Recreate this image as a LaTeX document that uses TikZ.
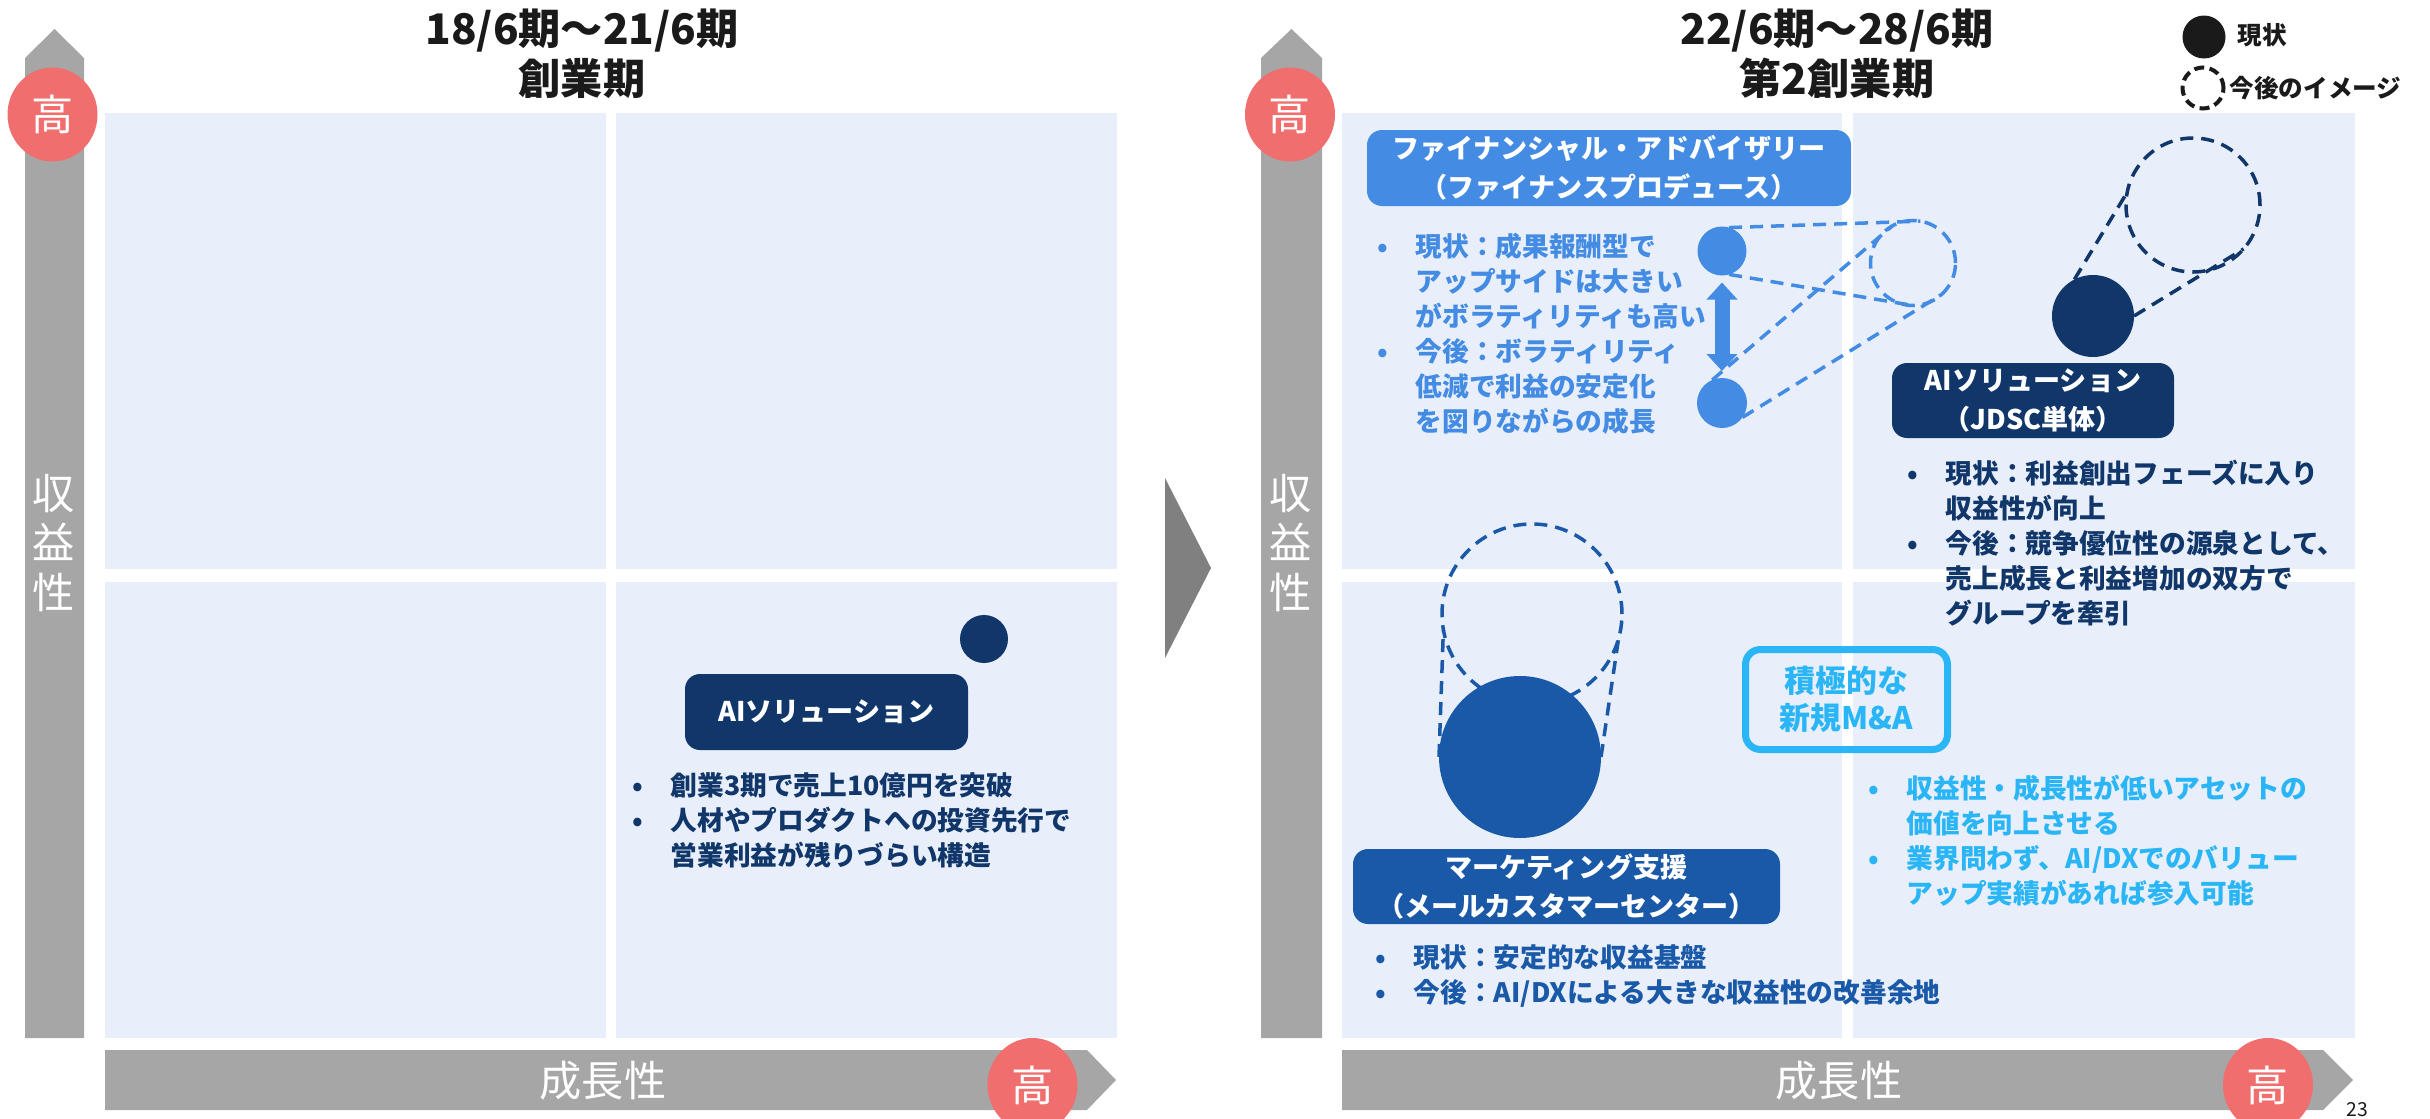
\documentclass[tikz,border=0pt]{standalone}
\usepackage{fontspec}
\setmainfont{Noto Sans CJK JP}
\usepackage{xcolor}
\usepackage{tikz}
\usetikzlibrary{arrows.meta}
\usetikzlibrary{shapes.geometric}

\definecolor{quadbg}{HTML}{E8EFFA}
\definecolor{axisgray}{HTML}{A6A6A6}
\definecolor{chevgray}{HTML}{808080}
\definecolor{hired}{HTML}{F06E6E}
\definecolor{navy}{HTML}{10366A}
\definecolor{fablue}{HTML}{448CE3}
\definecolor{mkblue}{HTML}{1A59A8}
\definecolor{mnacyan}{HTML}{29B5F6}
\definecolor{inkblack}{HTML}{1A1A1A}

\newcommand{\bu}{\makebox[0.8mm][c]{•}\hspace{2.9mm}}
\newcommand{\ind}{\hspace*{3.7mm}}

\tikzset{
  hilabel/.style={ellipse, fill=hired, text=white, inner sep=0, minimum width=9mm, minimum height=9.4mm, font=\fontsize{12}{12}\selectfont},
  axlabel/.style={text=white, inner sep=0, align=center, font=\fontsize{12}{14.2}\selectfont},
  title/.style={text=inkblack, inner sep=0, align=center, font=\fontsize{12}{14.2}\selectfont\bfseries},
  tagbox/.style={rounded corners=1.5mm, inner sep=0, text=white, align=center, font=\fontsize{7.7}{11}\selectfont\bfseries},
  blist/.style={anchor=base west, inner sep=0, font=\fontsize{7.6}{10}\selectfont\bfseries},
  keytext/.style={anchor=west, inner sep=0, text=inkblack, font=\fontsize{7}{8}\selectfont\bfseries},
  nowdot/.style={circle, inner sep=0, outer sep=0},
  goalring/.style={circle, inner sep=0, outer sep=0, draw, line width=0.35mm, dash pattern=on 1.3mm off 0.8mm},
  link/.style={line width=0.35mm, dash pattern=on 1.3mm off 0.8mm},
}

\begin{document}
\begin{tikzpicture}[x=0.1mm, y=-0.1mm]
        \useasboundingbox (0,0) rectangle (2430,1119);

        % quadrants
        \fill[quadbg] (105,113) rectangle (606,569);
        \fill[quadbg] (616,113) rectangle (1117,569);
        \fill[quadbg] (105,582) rectangle (606,1038);
        \fill[quadbg] (616,582) rectangle (1117,1038);
        \fill[quadbg] (1342,113) rectangle (1842,569);
        \fill[quadbg] (1853,113) rectangle (2355,569);
        \fill[quadbg] (1342,582) rectangle (1842,1038);
        \fill[quadbg] (1853,582) rectangle (2355,1038);

        % axes
        \fill[axisgray] (25,1038) -- (25,58) -- (54.5,29) -- (84,58) -- (84,1038) -- cycle;
        \fill[axisgray] (105,1050) -- (1087,1050) -- (1116,1080) -- (1087,1110) -- (105,1110) -- cycle;
        \fill[axisgray] (1261,1038) -- (1261,58) -- (1291.5,29) -- (1322,58) -- (1322,1038) -- cycle;
        \fill[axisgray] (1342,1050) -- (2323,1050) -- (2353,1080) -- (2323,1110) -- (1342,1110) -- cycle;
        \fill[chevgray] (1165,478) -- (1211,568) -- (1165,658) -- cycle;

        \node[axlabel] (yl_left) at (54,543) {収\\益\\性};
        \node[axlabel] (yl_right) at (1291,543) {収\\益\\性};
        \node[axlabel] (xl_left) at (603,1081) {成長性};
        \node[axlabel] (xl_right) at (1839,1081) {成長性};
        \node[hilabel] (yh_left) at (52.5,114.5) {高};
        \node[hilabel] (yh_right) at (1290,114.5) {高};
        \node[hilabel] (xh_left) at (1032.5,1085) {高};
        \node[hilabel] (xh_right) at (2268,1085) {高};

        \node[title] (t_left) at (582,54) {18/6期～21/6期\\創業期};
        \node[title] (t_right) at (1837,54) {22/6期～28/6期\\第2創業期};

        % legend
        \node[nowdot, fill=inkblack, minimum size=4.3mm] (key_now) at (2204,37) {};
        \node[keytext] (key_now_txt) at (2237,35) {現状};
        \node[goalring, draw=inkblack, minimum size=4.1mm, line width=0.4mm, dash pattern=on 1mm off 0.55mm] (key_goal) at (2203,88) {};
        \node[keytext] (key_goal_txt) at (2229,88) {今後のイメージ};

        % left panel
        \node[nowdot, fill=navy, minimum size=4.8mm] (ai_old) at (984,639) {};
        \node[tagbox, fill=navy, minimum width=28.3mm, minimum height=7.6mm] (ai_old_box) at (826.5,712) {AIソリューション};
        \node[blist, text=navy] (ai_old_txt) at (633,795) {\begin{tabular}[t]{@{}l@{}}\bu 創業3期で売上10億円を突破\\\bu 人材やプロダクトへの投資先行で\\\ind 営業利益が残りづらい構造\end{tabular}};

        % right panel: rings and dots
        \node[goalring, draw=fablue, minimum size=8.5mm] (fa_goal) at (1913,263) {};
        \node[goalring, draw=navy, minimum size=13.4mm] (ai_goal) at (2193,205) {};
        \node[goalring, draw=mkblue, minimum size=18mm] (mk_goal) at (1532,614) {};
        \node[nowdot, fill=fablue, minimum size=4.9mm] (fa_now) at (1722,251) {};
        \node[nowdot, fill=fablue, minimum size=5mm] (fa_next) at (1722,403) {};
        \node[nowdot, fill=navy, minimum size=8.2mm] (ai_now) at (2093,316) {};
        \node[nowdot, fill=mkblue, minimum size=16.2mm] (mk_now) at (1520,757) {};

        \draw[link, fablue] (fa_now.73) -- (fa_goal.80);
        \draw[link, fablue] (fa_now.-73) -- (fa_goal.-90);
        \draw[link, fablue] (fa_next.113) -- (fa_goal.119);
        \draw[link, fablue] (fa_next.-35) -- (fa_goal.-48);
        \draw[link, navy] (ai_now.117) -- (ai_goal.169);
        \draw[link, navy] (ai_now.0) -- (ai_goal.-41);
        \draw[link, mkblue] (mk_now.180) -- (mk_goal.190);
        \draw[link, mkblue] (mk_now.0) -- (mk_goal.-16);

        \draw[fablue, line width=1.5mm, {Triangle[width=3mm,length=1.7mm]}-{Triangle[width=3mm,length=1.7mm]}, shorten <=0.7mm, shorten >=0.7mm] (fa_now) -- (fa_next);

        % right panel: boxes and texts
        \node[tagbox, fill=fablue, minimum width=48.4mm, minimum height=7.6mm] (fa_box) at (1609,168) {ファイナンシャル・アドバイザリー\\（ファイナンスプロデュース）};
        \node[blist, text=fablue] (fa_txt) at (1378,256) {\begin{tabular}[t]{@{}l@{}}\bu 現状：成果報酬型で\\\ind アップサイドは大きい\\\ind がボラティリティも高い\\\bu 今後：ボラティリティ\\\ind 低減で利益の安定化\\\ind を図りながらの成長\end{tabular}};

        \node[tagbox, fill=navy, minimum width=28.2mm, minimum height=7.5mm] (ai_box) at (2033,400.5) {AIソリューション\\（JDSC単体）};
        \node[blist, text=navy] (ai_txt) at (1908,483) {\begin{tabular}[t]{@{}l@{}}\bu 現状：利益創出フェーズに入り\\\ind 収益性が向上\\\bu 今後：競争優位性の源泉として、\\\ind 売上成長と利益増加の双方で\\\ind グループを牽引\end{tabular}};

        \node[draw=mnacyan, line width=0.7mm, rounded corners=1.5mm, minimum width=20.2mm, minimum height=10mm, inner sep=0, text=mnacyan, align=center, font=\fontsize{8.8}{10.5}\selectfont\bfseries] (mna_box) at (1846.5,699.5) {積極的な\\新規M\&A};
        \node[blist, text=mnacyan] (mna_txt) at (1869,798) {\begin{tabular}[t]{@{}l@{}}\bu 収益性・成長性が低いアセットの\\\ind 価値を向上させる\\\bu 業界問わず、AI/DXでのバリュー\\\ind アップ実績があれば参入可能\end{tabular}};

        \node[tagbox, fill=mkblue, minimum width=42.7mm, minimum height=7.5mm] (mk_box) at (1566.5,886.5) {マーケティング支援\\（メールカスタマーセンター）};
        \node[blist, text=mkblue] (mk_txt) at (1376,967) {\begin{tabular}[t]{@{}l@{}}\bu 現状：安定的な収益基盤\\\bu 今後：AI/DXによる大きな収益性の改善余地\end{tabular}};

        \node[anchor=south west, inner sep=0, text=inkblack, font=\fontsize{5.5}{6}\selectfont] (pg) at (2346,1117) {23};
    \end{tikzpicture}
\end{document}
